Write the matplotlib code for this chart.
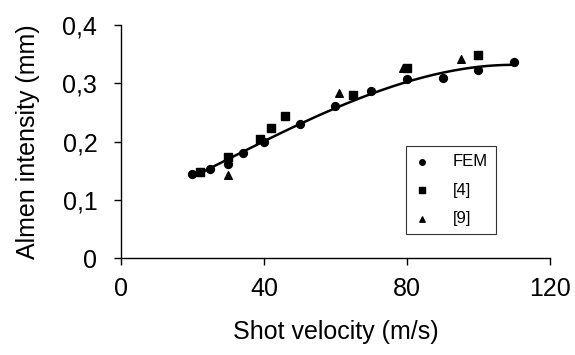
import matplotlib
matplotlib.use("Agg")
import matplotlib.pyplot as plt
import numpy as np
from matplotlib.ticker import FuncFormatter

plt.rcParams["font.family"] = ["Liberation Sans", "DejaVu Sans"]

# FEM results
fem_v = [20, 22, 25, 30, 34, 40, 50, 60, 70, 80, 90, 100, 110]
fem_i = [0.145, 0.147, 0.152, 0.161, 0.181, 0.200, 0.230, 0.261, 0.287, 0.307, 0.309, 0.323, 0.337]

# reference [4]
ref4_v = [22, 30, 39, 42, 46, 65, 80, 100]
ref4_i = [0.147, 0.174, 0.205, 0.224, 0.244, 0.280, 0.327, 0.349]

# reference [9]
ref9_v = [30, 61, 79, 95]
ref9_i = [0.142, 0.284, 0.327, 0.341]

fig = plt.figure(figsize=(5.75, 3.55), dpi=100)
ax = fig.add_axes([0.2104, 0.2732, 0.746, 0.6564])

# trend line through the FEM points
coef = np.polyfit(fem_v, fem_i, 3)
vv = np.linspace(min(fem_v), max(fem_v), 200)
ax.plot(vv, np.polyval(coef, vv), color="black", lw=1.8, zorder=2)

ax.scatter(fem_v, fem_i, marker="o", s=32, color="black", label="FEM", zorder=3)
ax.scatter(ref4_v, ref4_i, marker="s", s=28, color="black", label="[4]", zorder=3)
ax.scatter(ref9_v, ref9_i, marker="^", s=30, color="black", label="[9]", zorder=3)

ax.set_xlim(0, 120)
ax.set_ylim(0, 0.4)
ax.set_xticks([0, 40, 80, 120])
ax.set_yticks([0, 0.1, 0.2, 0.3, 0.4])
ax.yaxis.set_major_formatter(FuncFormatter(lambda y, p: "0" if y == 0 else f"{y:.1f}".replace(".", ",")))

for s in ["top", "right"]:
    ax.spines[s].set_visible(False)
for s in ["left", "bottom"]:
    ax.spines[s].set_linewidth(1.0)
ax.tick_params(direction="out", length=5, width=1.0, labelsize=18)
ax.tick_params(axis="x", pad=9)
ax.tick_params(axis="y", pad=12)

ax.set_xlabel("Shot velocity (m/s)", fontsize=18, va="center")
ax.set_ylabel("Almen intensity (mm)", fontsize=18, va="center")
ax.xaxis.set_label_coords(0.5, -0.318)
ax.yaxis.set_label_coords(-0.217, 0.5)

leg = ax.legend(loc="upper left", bbox_to_anchor=(0.664, 0.481), frameon=True, fancybox=False,
                edgecolor="black", fontsize=12, handlelength=1.0, handletextpad=1.3,
                borderpad=0.5, labelspacing=0.8, markerscale=0.7, borderaxespad=0)
leg.get_frame().set_linewidth(0.8)

fig.savefig("out.png", dpi=100)
